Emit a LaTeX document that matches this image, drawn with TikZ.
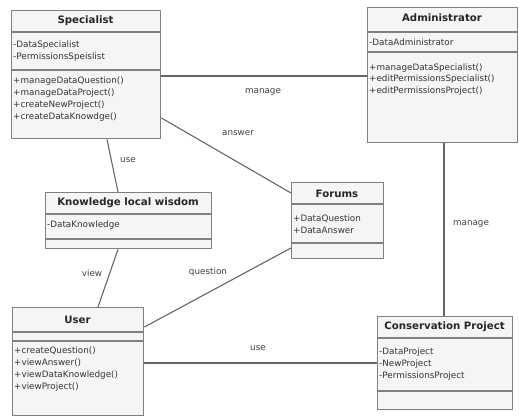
\documentclass[tikz,border=0pt]{standalone}
\usepackage{fontspec}
\setmainfont{DejaVu Sans}
\begin{document}
\begin{tikzpicture}[x=1pt,y=-1pt,
  cls/.style={draw=black!50, line width=1.4pt, fill=black!4, inner sep=0pt, anchor=north west},
  divl/.style={draw=black!50, line width=1.2pt},
  ttl/.style={font=\fontsize{10.2}{12}\selectfont\bfseries, text=black!85, inner sep=0pt},
  itm/.style={font=\fontsize{8.8}{11.8}\selectfont, text=black!80, inner sep=0pt, anchor=west, align=left},
  lbl/.style={font=\fontsize{8.8}{11.8}\selectfont, text=black!75, inner sep=0pt},
  link/.style={draw=black!60, line width=1.1pt}]
\useasboundingbox (0,0) rectangle (519,416);
\fill[white] (0,0) rectangle (519,416);
% Specialist
\node[cls, minimum width=149pt, minimum height=128pt] (spec) at (11,10) {};
\draw[divl] ([yshift=-22pt]spec.north west) -- ([yshift=-22pt]spec.north east);
\draw[divl] ([yshift=-60pt]spec.north west) -- ([yshift=-60pt]spec.north east);
\node[ttl] (spect) at (85.5,21) {Specialist};
\node[itm] (speca) at (13,51) {-DataSpecialist\\-PermissionsSpeislist};
\node[itm] (specm) at (13,99) {+manageDataQuestion()\\+manageDataProject()\\+createNewProject()\\+createDataKnowdge()};
% Administrator
\node[cls, minimum width=150pt, minimum height=135pt] (adm) at (367,7) {};
\draw[divl] ([yshift=-25pt]adm.north west) -- ([yshift=-25pt]adm.north east);
\draw[divl] ([yshift=-45pt]adm.north west) -- ([yshift=-45pt]adm.north east);
\node[ttl] (admt) at (442,18) {Administrator};
\node[itm] (adma) at (369,42) {-DataAdministrator};
\node[itm] (admm) at (369,79.5) {+manageDataSpecialist()\\+editPermissionsSpecialist()\\+editPermissionsProject()};
% Knowledge local wisdom
\node[cls, minimum width=166pt, minimum height=56pt] (know) at (45,192) {};
\draw[divl] ([yshift=-22pt]know.north west) -- ([yshift=-22pt]know.north east);
\draw[divl] ([yshift=-47pt]know.north west) -- ([yshift=-47pt]know.north east);
\node[ttl] (knowt) at (128,203) {Knowledge local wisdom};
\node[itm] (knowa) at (47,225) {-DataKnowledge};
% Forums
\node[cls, minimum width=92pt, minimum height=76pt] (for) at (291,182) {};
\draw[divl] ([yshift=-22pt]for.north west) -- ([yshift=-22pt]for.north east);
\draw[divl] ([yshift=-61pt]for.north west) -- ([yshift=-61pt]for.north east);
\node[ttl] (fort) at (337,193.5) {Forums};
\node[itm] (fora) at (293,224) {+DataQuestion\\+DataAnswer};
% User
\node[cls, minimum width=131pt, minimum height=108pt] (user) at (12,307) {};
\draw[divl] ([yshift=-25pt]user.north west) -- ([yshift=-25pt]user.north east);
\draw[divl] ([yshift=-34pt]user.north west) -- ([yshift=-34pt]user.north east);
\node[ttl] (usert) at (77.5,319.5) {User};
\node[itm] (userm) at (14,369) {+createQuestion()\\+viewAnswer()\\+viewDataKnowledge()\\+viewProject()};
% Conservation Project
\node[cls, minimum width=135pt, minimum height=93pt] (cons) at (377,316) {};
\draw[divl] ([yshift=-22pt]cons.north west) -- ([yshift=-22pt]cons.north east);
\draw[divl] ([yshift=-75pt]cons.north west) -- ([yshift=-75pt]cons.north east);
\node[ttl] (const) at (444.5,327) {Conservation Project};
\node[itm] (consa) at (379,364) {-DataProject\\-NewProject\\-PermissionsProject};
% connectors
\draw[link] (spec.east |- 0,76) -- (adm.west |- 0,76);
\node[lbl] (l1) at (263,92) {manage};
\draw[link] (spec.east |- 0,118) -- (for.west |- 0,193);
\node[lbl] (l2) at (238,133) {answer};
\draw[link] (spec.south -| 107,0) -- (know.north -| 118,0);
\node[lbl] (l3) at (128,160) {use};
\draw[link] (know.south -| 118,0) -- (user.north -| 98,0);
\node[lbl] (l4) at (92,273) {view};
\draw[link] (for.west |- 0,248) -- (user.east |- 0,327);
\node[lbl] (l5) at (208,272) {question};
\draw[link] (user.east |- 0,363) -- (cons.west |- 0,363);
\node[lbl] (l6) at (258,348) {use};
\draw[link] (adm.south -| 444,0) -- (cons.north -| 444,0);
\node[lbl] (l7) at (471,224) {manage};
\end{tikzpicture}
\end{document}
